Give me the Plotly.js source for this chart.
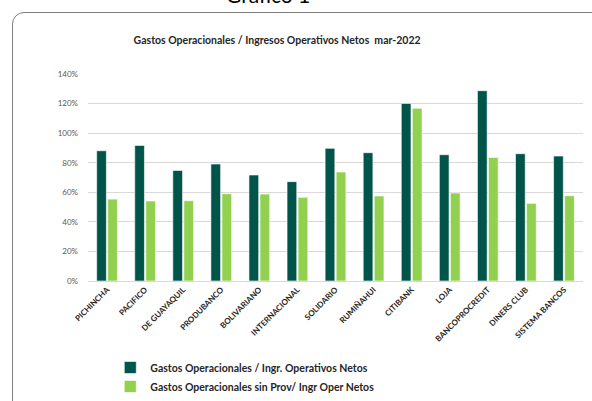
<!DOCTYPE html>
<html><head><meta charset="utf-8">
<script src="https://cdn.plot.ly/plotly-3.0.1.min.js"></script>
<style>
html,body{margin:0;padding:0;background:#fff;width:592px;height:401px;overflow:hidden;position:relative;}
#card{position:absolute;left:12px;top:12px;width:640px;height:440px;border:1px solid #7f7f7f;border-top-left-radius:12px;box-sizing:border-box;}
#chart{position:absolute;left:0;top:0;width:592px;height:401px;}
</style></head>
<body>
<div id="card"></div>
<div id="chart"></div>
<script>
const categories = ["PICHINCHA","PACIFICO","DE GUAYAQUIL","PRODUBANCO","BOLIVARIANO","INTERNACIONAL","SOLIDARIO","RUMIÑAHUI","CITIBANK","LOJA","BANCOPROCREDIT","DINERS CLUB","SISTEMA BANCOS"];
const gastosIngr = [0.881,0.917,0.748,0.791,0.717,0.672,0.897,0.868,1.201,0.854,1.287,0.861,0.845];
const gastosSinProv = [0.554,0.541,0.543,0.590,0.588,0.566,0.737,0.575,1.168,0.595,0.836,0.525,0.577];
const seriesNames = ["Gastos Operacionales / Ingr. Operativos Netos","Gastos Operacionales sin Prov/ Ingr Oper Netos"];
const yTicks = [0,0.2,0.4,0.6,0.8,1.0,1.2,1.4];
const yTickText = ["0%","20%","40%","60%","80%","100%","120%","140%"];
const titleText = "Gastos Operacionales / Ingresos Operativos Netos  mar-2022";

const traces = [
  {type:"bar", name:seriesNames[0], x:categories, y:gastosIngr,
   marker:{color:"#00544a", line:{color:"#ffffff", width:0.6}}},
  {type:"bar", name:seriesNames[1], x:categories, y:gastosSinProv,
   marker:{color:"#92d050", line:{color:"#ffffff", width:0.6}}}
];
const layout = {
  width:592, height:401,
  paper_bgcolor:"rgba(0,0,0,0)", plot_bgcolor:"rgba(0,0,0,0)",
  margin:{l:88, r:9, t:74, b:120},
  font:{family:"Lato, 'Open Sans', sans-serif", color:"#404040"},
  title:{text:"<b>"+titleText+"</b>", font:{size:10.5, color:"#262626", family:"Lato, sans-serif"},
         xref:"paper", x:0.382, xanchor:"center", yref:"container", y:0.9, yanchor:"middle"},
  barmode:"group", bargap:0.42, bargroupgap:0.12,
  xaxis:{type:"category", tickangle:-45, tickfont:{size:8, color:"#262626", family:"Lato, sans-serif", weight:"bold"},
         showgrid:false, showline:true, linecolor:"#d9d9d9", ticks:"", automargin:false},
  yaxis:{range:[0,1.4], tickvals:yTicks, ticktext:yTickText, tickfont:{size:8, color:"#595959"},
         showgrid:true, gridcolor:"#d9d9d9", gridwidth:1, zeroline:false, showline:false, ticks:"",
         ticklabelstandoff:9, automargin:false},
  legend:{orientation:"v", xref:"paper", x:0.045, xanchor:"left", yref:"container", y:1-353/401, yanchor:"top",
          font:{size:10.5, color:"#262626", family:"Lato, sans-serif", weight:"bold"}, tracegroupgap:0, itemwidth:30},
  showlegend:true,
  annotations:[{text:"Gráfico 1", xref:"paper", x:0.363, xanchor:"center", yref:"paper", y:1+(74-9)/207, yanchor:"bottom",
                showarrow:false, font:{size:21, color:"#000", family:"Lato, sans-serif"}}]
};
Plotly.newPlot("chart", traces, layout, {displayModeBar:false, staticPlot:true});
</script>
</body></html>
